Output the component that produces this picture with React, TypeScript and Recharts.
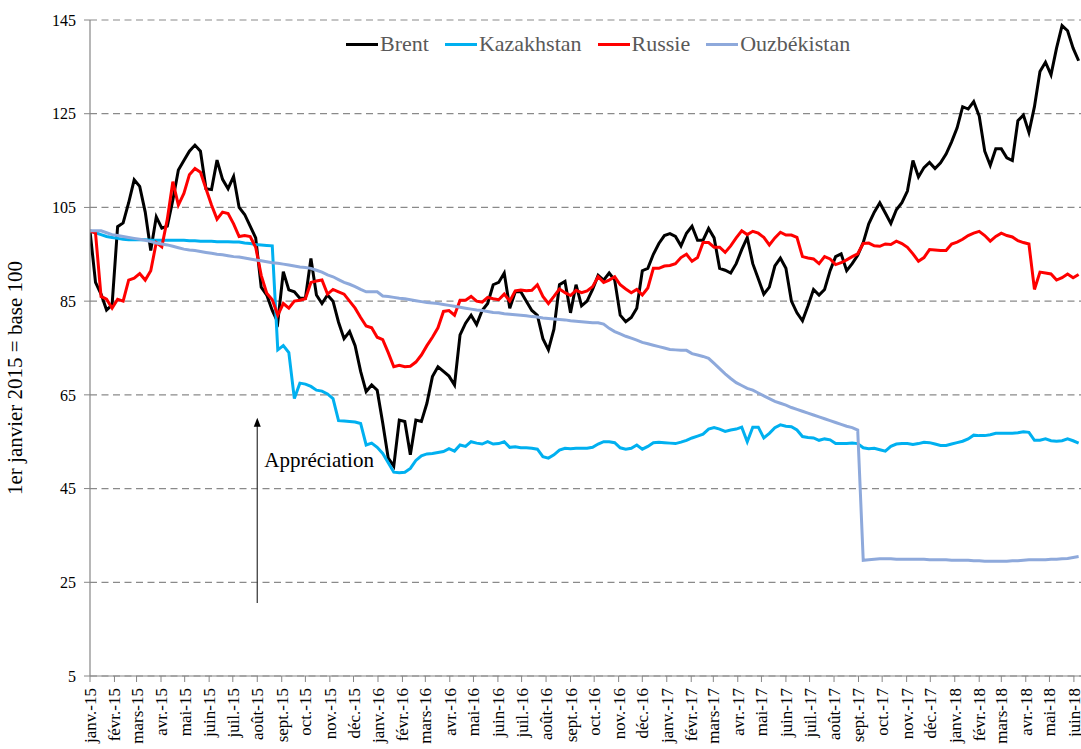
import React from "react";
import {
  CartesianGrid,
  Line,
  LineChart,
  ReferenceLine,
  XAxis,
  YAxis,
} from "recharts";

// weekly observations, first one on 1 Jan 2015 (base 100)
const START = Date.UTC(2015, 0, 1);
const DAY = 86400000;

const brent = [
  100, 89, 86.5, 83.1, 84.2, 100.9, 101.7, 106, 110.9, 109.5, 104, 95.8, 103, 100.6, 101, 106.6, 113, 115, 117, 118.3,
  117, 109, 108.8, 115.1, 111, 109, 111.6, 105, 103.5, 101, 98.5, 88, 86.3, 83, 80.5, 91.3, 87.4, 87, 85.6, 85.6,
  94.1, 86.3, 84.5, 86.3, 85, 80.5, 77, 78.5, 75.5, 70, 65.7, 67.1, 66, 59, 51.5, 49.8, 59.6, 59.3, 52.2, 59.6,
  59.3, 63.2, 68.9, 71, 70, 69, 67.1, 77.8, 80.3, 82, 80, 83, 84.5, 88.5, 89, 91, 83.5, 87, 87, 85,
  83, 82, 77, 74.6, 79, 88.5, 89.2, 82.5, 88.5, 84, 85, 87.5, 90.5, 89.5, 91, 89.5, 82, 80.6, 81.5, 83.5,
  91.5, 92, 95, 97.3, 99, 99.4, 98.8, 96.8, 99.5, 101, 98, 98, 100.5, 98.5, 92, 91.6, 91, 93, 96, 98.6,
  93, 89.8, 86.5, 88, 92.5, 94.2, 92, 85, 82.5, 80.8, 84, 87.5, 86.3, 87.5, 91.5, 94.5, 95.1, 91.5, 93, 94.8,
  97.5, 101.5, 104, 106, 103.8, 101.6, 104.5, 106, 108.5, 115, 111.5, 113.5, 114.6, 113.3, 114.5, 116.4, 119, 122, 126.5, 126,
  127.6, 124.5, 117, 114, 117.5, 117.5, 115.6, 115, 123.5, 124.7, 121, 126.5, 134, 136, 133.3, 139, 143.8, 142.7, 139, 136.3,
];

const kazakhstan = [
  100, 99.6, 99.2, 98.8, 98.6, 98.4, 98.2, 98.1, 98.1, 98.1, 98.1, 98, 98, 98, 98, 98, 98, 98, 97.9, 97.9,
  97.8, 97.8, 97.8, 97.7, 97.7, 97.7, 97.6, 97.6, 97.4, 97.3, 97.1, 97, 96.9, 96.8, 74.6, 75.5, 74, 64.2, 67.5, 67.3,
  66.8, 66, 65.8, 65.2, 64.2, 59.5, 59.4, 59.3, 59.2, 58.9, 54.3, 54.7, 53.8, 52.5, 50.5, 48.5, 48.4, 48.5, 49.3, 51,
  52, 52.4, 52.5, 52.7, 52.9, 53.5, 53, 54.3, 54, 55, 54.7, 54.5, 55, 54.5, 54.6, 55, 53.8, 53.9, 53.7, 53.7,
  53.6, 53.4, 51.8, 51.5, 52.2, 53.2, 53.6, 53.5, 53.6, 53.6, 53.6, 53.8, 54.5, 55, 55, 54.8, 53.7, 53.4, 53.6, 54.3,
  53.4, 54, 54.8, 54.9, 54.8, 54.7, 54.6, 54.9, 55.3, 55.8, 56.2, 56.6, 57.7, 58, 57.7, 57.2, 57.5, 57.7, 58.1, 55,
  58.1, 58.1, 55.8, 56.8, 58, 58.6, 58.3, 58.2, 57.5, 56.1, 55.9, 55.8, 55.3, 55.6, 55.4, 54.6, 54.6, 54.6, 54.7, 54.6,
  53.7, 53.5, 53.6, 53.3, 53, 54, 54.5, 54.6, 54.6, 54.4, 54.6, 54.9, 54.8, 54.5, 54.2, 54.2, 54.5, 54.8, 55.1, 55.6,
  56.4, 56.3, 56.3, 56.5, 56.8, 56.8, 56.8, 56.8, 56.9, 57.1, 57, 55.3, 55.3, 55.6, 55.2, 55.1, 55.2, 55.6, 55.2, 54.7,
];

const russie = [
  100, 99.5, 86, 85.4, 83.5, 85.4, 85, 89.5, 89.9, 90.9, 89.5, 91.5, 97.5, 96.6, 102.5, 110.5, 105.5, 108, 112, 113.3,
  112.5, 109, 105.5, 102.5, 104, 103.7, 101.5, 98.8, 99, 98.8, 96.5, 90.5, 86.7, 85.3, 82, 84.5, 83.5, 85, 85.2, 85.5,
  89, 89.3, 89.5, 86.5, 87.5, 87, 86.5, 85, 83.5, 81.5, 79.7, 79.3, 77.3, 76.8, 74, 71, 71.3, 71, 71.1, 72,
  73.5, 75.5, 77.3, 79.3, 82.8, 83, 82, 85.2, 85.2, 86, 85, 84.8, 85.8, 85.5, 85.3, 86.5, 85, 87.2, 87.4, 87.2,
  87.3, 88.5, 86, 84.5, 86, 87.6, 86.8, 86.2, 87.3, 86.8, 87.2, 88.1, 90.2, 89, 89.5, 90.2, 88.5, 87.6, 86.8, 87.5,
  86.3, 87.8, 92, 92, 92.5, 92.6, 93, 94.3, 95, 93.5, 94.3, 97.5, 97.5, 96.5, 96.5, 95.4, 96.8, 98.5, 100, 99.2,
  99.9, 99.5, 98.6, 97, 98.5, 99.7, 99.1, 99.1, 98.6, 94.5, 94.2, 94, 93, 94.5, 94, 92.8, 93.2, 93.8, 94.5, 95.1,
  97.3, 97.4, 96.8, 96.7, 97.2, 97.1, 97.8, 97.3, 96.5, 95.1, 93.5, 94.3, 96, 95.9, 95.8, 95.8, 97.2, 97.6, 98.2, 99,
  99.5, 99.9, 99, 97.8, 98.8, 99.5, 99, 98.7, 97.9, 97.5, 97.2, 87.5, 91.2, 91, 90.8, 89.5, 90, 90.8, 90, 90.7,
];

const ouzbekistan = [
  100, 100, 100, 99.6, 99.2, 99, 98.8, 98.6, 98.4, 98.2, 98, 97.7, 97.4, 97.2, 97, 96.7, 96.4, 96.1, 95.9, 95.8,
  95.6, 95.4, 95.2, 95, 94.9, 94.7, 94.5, 94.4, 94.2, 94, 93.8, 93.6, 93.4, 93.2, 93.1, 92.9, 92.7, 92.5, 92.3, 92.2,
  92, 91.6, 91.2, 90.6, 90.2, 89.6, 89, 88.6, 88.1, 87.5, 87, 87, 87, 86.1, 86, 85.8, 85.6, 85.5, 85.3, 85.1,
  84.9, 84.7, 84.6, 84.5, 84.3, 84.1, 83.9, 83.7, 83.5, 83.3, 83.1, 83, 82.8, 82.6, 82.5, 82.3, 82.2, 82.1, 82, 81.9,
  81.7, 81.6, 81.4, 81.3, 81.2, 81.1, 81, 80.8, 80.7, 80.6, 80.5, 80.4, 80.4, 80.1, 79.2, 78.5, 78, 77.5, 77.1, 76.7,
  76.2, 75.9, 75.6, 75.3, 75, 74.7, 74.6, 74.5, 74.5, 73.8, 73.5, 73.2, 72.8, 71.7, 70.6, 69.5, 68.5, 67.6, 67, 66.4,
  66, 65.4, 64.8, 64.2, 63.6, 63.2, 62.8, 62.3, 61.9, 61.5, 61.1, 60.7, 60.3, 59.9, 59.5, 59.1, 58.7, 58.3, 58, 57.5,
  29.7, 29.8, 29.9, 30, 30, 30, 29.9, 29.9, 29.9, 29.9, 29.9, 29.9, 29.8, 29.8, 29.8, 29.8, 29.7, 29.7, 29.7, 29.7,
  29.6, 29.6, 29.5, 29.5, 29.5, 29.5, 29.5, 29.6, 29.6, 29.7, 29.8, 29.8, 29.8, 29.8, 29.9, 29.9, 30, 30.1, 30.3, 30.5,
];

const seriesNames = ["Brent", "Kazakhstan", "Russie", "Ouzbékistan"];
const seriesKeys = ["brent", "kaz", "rus", "ouz"];
const seriesColors = ["#000000", "#00B0F0", "#FF0000", "#8EA9DB"];

const monthNames = ["janv.", "févr.", "mars", "avr.", "mai", "juin", "juil.", "août", "sept.", "oct.", "nov.", "déc."];
const yTicks = [5, 25, 45, 65, 85, 105, 125, 145];

const data = brent.map((b, i) => ({
  day: i * 7,
  brent: b,
  kaz: kazakhstan[i],
  rus: russie[i],
  ouz: ouzbekistan[i],
}));

// one tick at the start of every month, janv.-15 .. juin-18
const monthTicks: { day: number; label: string }[] = [];
for (let m = 0; m < 42; m++) {
  const y = 2015 + Math.floor(m / 12);
  const day = (Date.UTC(y, m % 12, 1) - START) / DAY;
  monthTicks.push({ day, label: `${monthNames[m % 12]}-${String(y).slice(2)}` });
}
const labelOf = (d: number) => monthTicks.find((t) => t.day === d)?.label ?? "";

const FONT = "'Liberation Serif', 'Times New Roman', serif";

const MonthTick = (props: any) => {
  const { x, y, payload } = props;
  return (
    <text
      transform={`translate(${x + 6},${y + 4}) rotate(-90)`}
      textAnchor="end"
      fontSize={17}
      fontFamily={FONT}
      fill="#000"
    >
      {labelOf(payload.value)}
    </text>
  );
};

const AxisTitle = (props: any) => {
  const { viewBox } = props;
  const cx = viewBox.x + 22;
  const cy = viewBox.y + viewBox.height / 2 + 30;
  return (
    <text
      transform={`translate(${cx},${cy}) rotate(-90)`}
      textAnchor="middle"
      fontSize={21}
      fontFamily={FONT}
      fill="#000"
    >
      1er janvier 2015 = base 100
    </text>
  );
};

// arrow pointing up with the caption underneath its tip
const Arrow = (props: any) => {
  const { x1, y1, x2, y2 } = props;
  const top = Math.min(y1, y2);
  const bottom = Math.max(y1, y2);
  return (
    <g>
      <line x1={x1} y1={bottom} x2={x2} y2={top + 6} stroke="#404040" strokeWidth={1.3} />
      <polygon points={`${x1},${top} ${x1 - 3.5},${top + 9} ${x1 + 3.5},${top + 9}`} fill="#000" />
      <text x={x1 + 7} y={top + 49} fontSize={21} fontFamily={FONT} fill="#000">
        Appréciation
      </text>
    </g>
  );
};

export default function App() {
  const aout15 = (Date.UTC(2015, 7, 1) - START) / DAY;
  return (
    <div style={{ position: "absolute", left: 0, top: 0, width: 1081, height: 749, background: "#fff" }}>
      <LineChart
        width={1081}
        height={749}
        data={data}
        margin={{ top: 20, right: 0, bottom: 0, left: 0 }}
      >
        <CartesianGrid vertical={false} stroke="#8a8a8a" strokeDasharray="7 4.5" strokeWidth={1.2} />
        <XAxis
          dataKey="day"
          type="number"
          domain={[0, 1256]}
          ticks={monthTicks.map((t) => t.day)}
          interval={0}
          height={73}
          tick={<MonthTick />}
          tickSize={6}
          tickLine={{ stroke: "#868686" }}
          axisLine={{ stroke: "#868686", strokeWidth: 1.2 }}
          allowDataOverflow
        />
        <YAxis
          domain={[5, 145]}
          ticks={yTicks}
          width={90}
          tickSize={6}
          tickMargin={8}
          tick={{ fontSize: 16, fontFamily: FONT, fill: "#000" }}
          tickLine={{ stroke: "#868686" }}
          axisLine={{ stroke: "#868686", strokeWidth: 1.2 }}
          label={<AxisTitle />}
          allowDataOverflow
        />
        <ReferenceLine
          segment={[
            { x: aout15, y: 20.6 },
            { x: aout15, y: 60.1 },
          ]}
          shape={<Arrow />}
        />
        {seriesKeys.map((k, i) => (
          <Line
            key={k}
            dataKey={k}
            name={seriesNames[i]}
            type="linear"
            stroke={seriesColors[i]}
            strokeWidth={3}
            dot={false}
            activeDot={false}
            isAnimationActive={false}
          />
        ))}
      </LineChart>
      <div
        style={{
          position: "absolute",
          left: 346,
          top: 30,
          display: "flex",
          alignItems: "center",
          fontFamily: FONT,
          fontSize: 22,
          color: "#595959",
          lineHeight: "28px",
          whiteSpace: "nowrap",
        }}
      >
        {seriesNames.map((n, i) => (
          <div key={n} style={{ display: "flex", alignItems: "center", marginRight: 16 }}>
            <span style={{ display: "inline-block", width: 32, height: 3, background: seriesColors[i] }} />
            <span style={{ marginLeft: 2 }}>{n}</span>
          </div>
        ))}
      </div>
    </div>
  );
}
